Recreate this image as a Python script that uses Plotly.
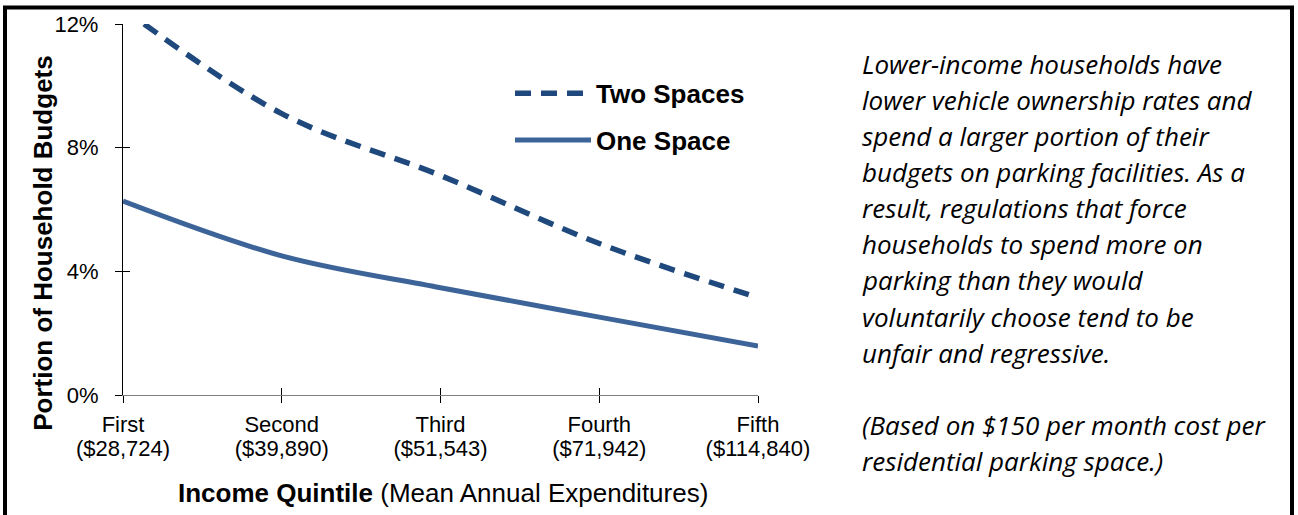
import plotly.graph_objects as go

# ---- data ----
quintiles = ["First", "Second", "Third", "Fourth", "Fifth"]
expenditures = ["($28,724)", "($39,890)", "($51,543)", "($71,942)", "($114,840)"]
two_spaces = [12.5, 9.1, 7.1, 4.9, 3.15]
one_space = [6.27, 4.5, 3.47, 2.52, 1.58]
y_ticks = [0, 4, 8, 12]
y_tick_labels = ["0%", "4%", "8%", "12%"]
note_lines = [
    "Lower-income households have",
    "lower vehicle ownership rates and",
    "spend a larger portion of their",
    "budgets on parking facilities. As a",
    "result, regulations that force",
    "households to spend more on",
    "parking than they would",
    "voluntarily choose tend to be",
    "unfair and regressive.",
    "",
    "(Based on $150 per month cost per",
    "residential parking space.)",
]

# ---- layout geometry (pixels) ----
W, H = 1298, 515
L, R, T, B = 123, 758, 22, 395


def px_x(px):
    return (px - L) / (R - L)


def px_y(py):
    return (B - py) / (B - T)


idx = list(range(len(quintiles)))
AX = "Liberation Sans, Arial, sans-serif"

fig = go.Figure()
fig.add_trace(go.Scatter(
    x=idx, y=two_spaces, name="Two Spaces", mode="lines",
    line=dict(color="#1F497D", width=5.5, dash="16px,10px", shape="spline"),
    legendgroup="a",
))
fig.add_trace(go.Scatter(
    x=idx, y=one_space, name="One Space", mode="lines",
    line=dict(color="#3C6499", width=5, shape="spline"),
    legendgroup="b",
))
# ghost trace to anchor overlay axes (inner tick halves / second label line)
fig.add_trace(go.Scatter(
    x=idx, y=one_space, xaxis="x2", yaxis="y2", mode="lines",
    line=dict(width=0), opacity=0, showlegend=False, hoverinfo="skip",
))

fig.update_layout(
    width=W, height=H,
    margin=dict(l=L, r=W - R, t=T, b=H - B, pad=0),
    paper_bgcolor="white", plot_bgcolor="white",
    font=dict(family=AX, color="black"),
    xaxis=dict(
        range=[0, len(quintiles) - 1], tickvals=idx, ticktext=quintiles,
        ticks="outside", ticklen=7, tickcolor="black", tickwidth=1,
        showline=True, linecolor="#7f7f7f", linewidth=1.3,
        showgrid=False, zeroline=False,
        tickfont=dict(size=22, family=AX, color="black"),
        ticklabelstandoff=2,
    ),
    xaxis2=dict(
        overlaying="x", anchor="y", side="bottom",
        range=[0, len(quintiles) - 1], tickvals=idx, ticktext=expenditures,
        ticks="inside", ticklen=7, tickcolor="black", tickwidth=1,
        showline=False, showgrid=False, zeroline=False,
        tickfont=dict(size=22, family=AX, color="black"),
        ticklabelstandoff=38,
    ),
    yaxis=dict(
        range=[0, 12], tickvals=y_ticks, ticktext=y_tick_labels,
        ticks="outside", ticklen=7, tickcolor="black", tickwidth=1,
        showline=True, linecolor="black", linewidth=1.3,
        showgrid=False, zeroline=False,
        tickfont=dict(size=22, family=AX, color="black"),
        ticklabelstandoff=12,
    ),
    yaxis2=dict(
        overlaying="y", anchor="x", side="left",
        range=[0, 12], tickvals=y_ticks, showticklabels=False,
        ticks="inside", ticklen=7, tickcolor="black", tickwidth=1,
        showline=False, showgrid=False, zeroline=False,
    ),
    legend=dict(
        x=px_x(510), y=px_y(68), xanchor="left", yanchor="top",
        bgcolor="rgba(0,0,0,0)", borderwidth=0,
        font=dict(size=26, family=AX, color="black", weight="bold"),
        traceorder="grouped", tracegroupgap=10, itemwidth=76,
    ),
    showlegend=True,
)

annotations = [
    dict(text="Portion of Household Budgets", textangle=-90,
         x=px_x(43), y=px_y(242), xref="paper", yref="paper",
         xanchor="center", yanchor="middle", showarrow=False,
         font=dict(size=26, family=AX, color="black", weight="bold")),
    dict(text="<b>Income Quintile</b> (Mean Annual Expenditures)",
         x=px_x(443), y=px_y(494), xref="paper", yref="paper",
         xanchor="center", yanchor="middle", showarrow=False,
         font=dict(size=26, family=AX, color="black")),
]
line_gap = 36.3
for i, line in enumerate(note_lines):
    if not line:
        continue
    annotations.append(dict(
        text=f"<i>{line}</i>", x=px_x(860), y=px_y(62 + i * line_gap),
        xref="paper", yref="paper", xanchor="left", yanchor="middle",
        showarrow=False, align="left",
        font=dict(size=26, family="Open Sans, sans-serif", color="black", style="italic"),
    ))
fig.update_layout(annotations=annotations)

# outer frame of the figure box
fig.add_shape(type="rect", xref="paper", yref="paper",
              x0=px_x(5), x1=px_x(1292), y0=px_y(540), y1=px_y(5.5),
              line=dict(color="black", width=4), fillcolor="rgba(0,0,0,0)",
              layer="above")

fig.write_html("out.html", config={"displayModeBar": False},
               post_script="document.body.style.margin='0';")
